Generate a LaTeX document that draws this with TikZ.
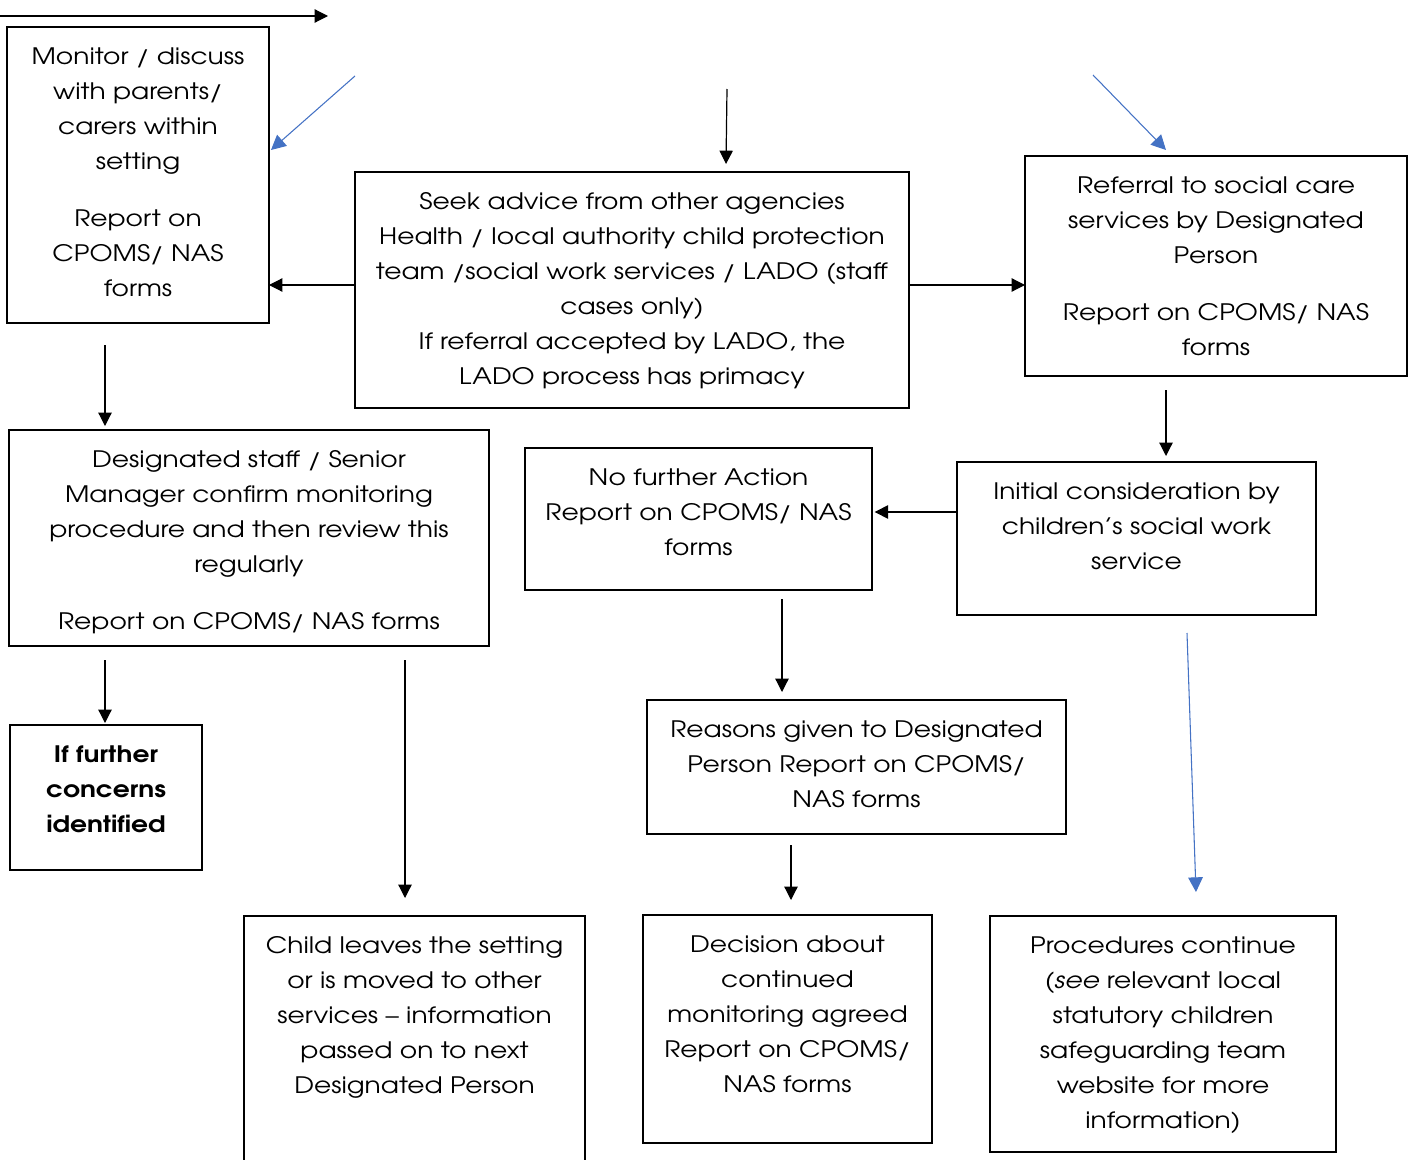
\documentclass[tikz,border=0pt]{standalone}
\usepackage{fontspec}
\setmainfont{texgyreadventor-regular.otf}[FakeStretch=1.17,BoldFont=texgyreadventor-bold.otf,ItalicFont=texgyreadventor-italic.otf,BoldItalicFont=texgyreadventor-bolditalic.otf]
\usetikzlibrary{arrows.meta}
\definecolor{arrowblue}{HTML}{4472C4}
\newcommand{\bxt}[3]{\parbox[t][\dimexpr #2pt*3/4\relax][t]{\dimexpr #1pt*3/4\relax}{\fontsize{17}{26.3}\selectfont\centering\rule{0pt}{28pt}#3\par}}
\begin{document}
\begin{tikzpicture}[x=0.75pt,y=-0.75pt,
  box/.style={draw, line width=1.1pt, inner sep=0pt, outer sep=0pt, anchor=north west},
  arr/.style={-{Triangle[length=10pt,width=10pt]}, line width=0.9pt},
  barr/.style={-{Triangle[length=11pt,width=11pt]}, line width=0.8pt, color=arrowblue}]
\useasboundingbox (0,0) rectangle (1411,1160);

\node[box] (mon) at (7,27) {\bxt{262}{296}{Monitor / discuss\\with parents/\\carers within\\setting\\[16.5pt]Report on\\CPOMS/ NAS\\forms}};
\node[box] (seek) at (355,172) {\bxt{554}{236}{Seek advice from other agencies\\Health / local authority child protection\\team /social work services / LADO (staff\\cases only)\\If referral accepted by LADO, the\\LADO process has primacy}};
\node[box] (ref) at (1025,156) {\bxt{382}{220}{Referral to social care\\services by Designated\\Person\\[16.5pt]Report on CPOMS/ NAS\\forms}};
\node[box] (des) at (9,430) {\bxt{480}{216}{Designated staff / Senior\\Manager confirm monitoring\\procedure and then review this\\regularly\\[16.5pt]Report on CPOMS/ NAS forms}};
\node[box] (nfa) at (525,448) {\bxt{347}{142}{No further Action\\Report on CPOMS/ NAS\\forms}};
\node[box] (init) at (957,462) {\bxt{359}{153}{Initial consideration by\\children’s social work\\service}};
\node[box] (rea) at (647,700) {\bxt{419}{134}{Reasons given to Designated\\Person Report on CPOMS/\\NAS forms}};
\node[box] (iff) at (10,725) {\bxt{192}{145}{\bfseries If further\\concerns\\identified}};
\node[box] (child) at (244,916) {\bxt{341}{260}{Child leaves the setting\\or is moved to other\\services – information\\passed on to next\\Designated Person}};
\node[box] (dec) at (643,915) {\bxt{289}{228}{Decision about\\continued\\monitoring agreed\\Report on CPOMS/\\NAS forms}};
\node[box] (proc) at (990,916) {\bxt{346}{236}{Procedures continue\\\textit{(see} relevant local\\statutory children\\safeguarding team\\website for more\\information)}};

% free ends of connectors
\coordinate (t0) at (0,16);
\coordinate (t1) at (328,16);
\coordinate (b1s) at (355,76);
\coordinate (b1e) at (271,150);
\coordinate (c1s) at (727,89);
\coordinate (c1e) at (726,164);
\coordinate (b2s) at (1093,75);
\coordinate (b2e) at (1166,150);
\coordinate (c2s) at (105,345);
\coordinate (c2e) at (105,426);
\coordinate (c3s) at (1166,390);
\coordinate (c3e) at (1166,456);
\coordinate (c4s) at (105,660);
\coordinate (c4e) at (105,723);
\coordinate (c5s) at (405,660);
\coordinate (c5e) at (405,898);
\coordinate (c6s) at (782,599);
\coordinate (c6e) at (782,692);
\coordinate (c7s) at (791,845);
\coordinate (c7e) at (791,900);
\coordinate (b3s) at (1187,633);
\coordinate (b3e) at (1196,892);
\coordinate (h1) at (0,285);
\coordinate (h2) at (0,512);

\draw[arr] (t0) -- (t1);
\draw[barr] (b1s) -- (b1e);
\draw[arr] (c1s) -- (c1e);
\draw[barr] (b2s) -- (b2e);
\draw[arr] (seek.west |- h1) -- (mon.east |- h1);
\draw[arr] (seek.east |- h1) -- (ref.west |- h1);
\draw[arr] (c2s) -- (c2e);
\draw[arr] (c3s) -- (c3e);
\draw[arr] (init.west |- h2) -- ([xshift=2pt]nfa.east |- h2);
\draw[arr] (c4s) -- (c4e);
\draw[arr] (c5s) -- (c5e);
\draw[arr] (c6s) -- (c6e);
\draw[arr] (c7s) -- (c7e);
\draw[barr] (b3s) -- (b3e);
\end{tikzpicture}
\end{document}
